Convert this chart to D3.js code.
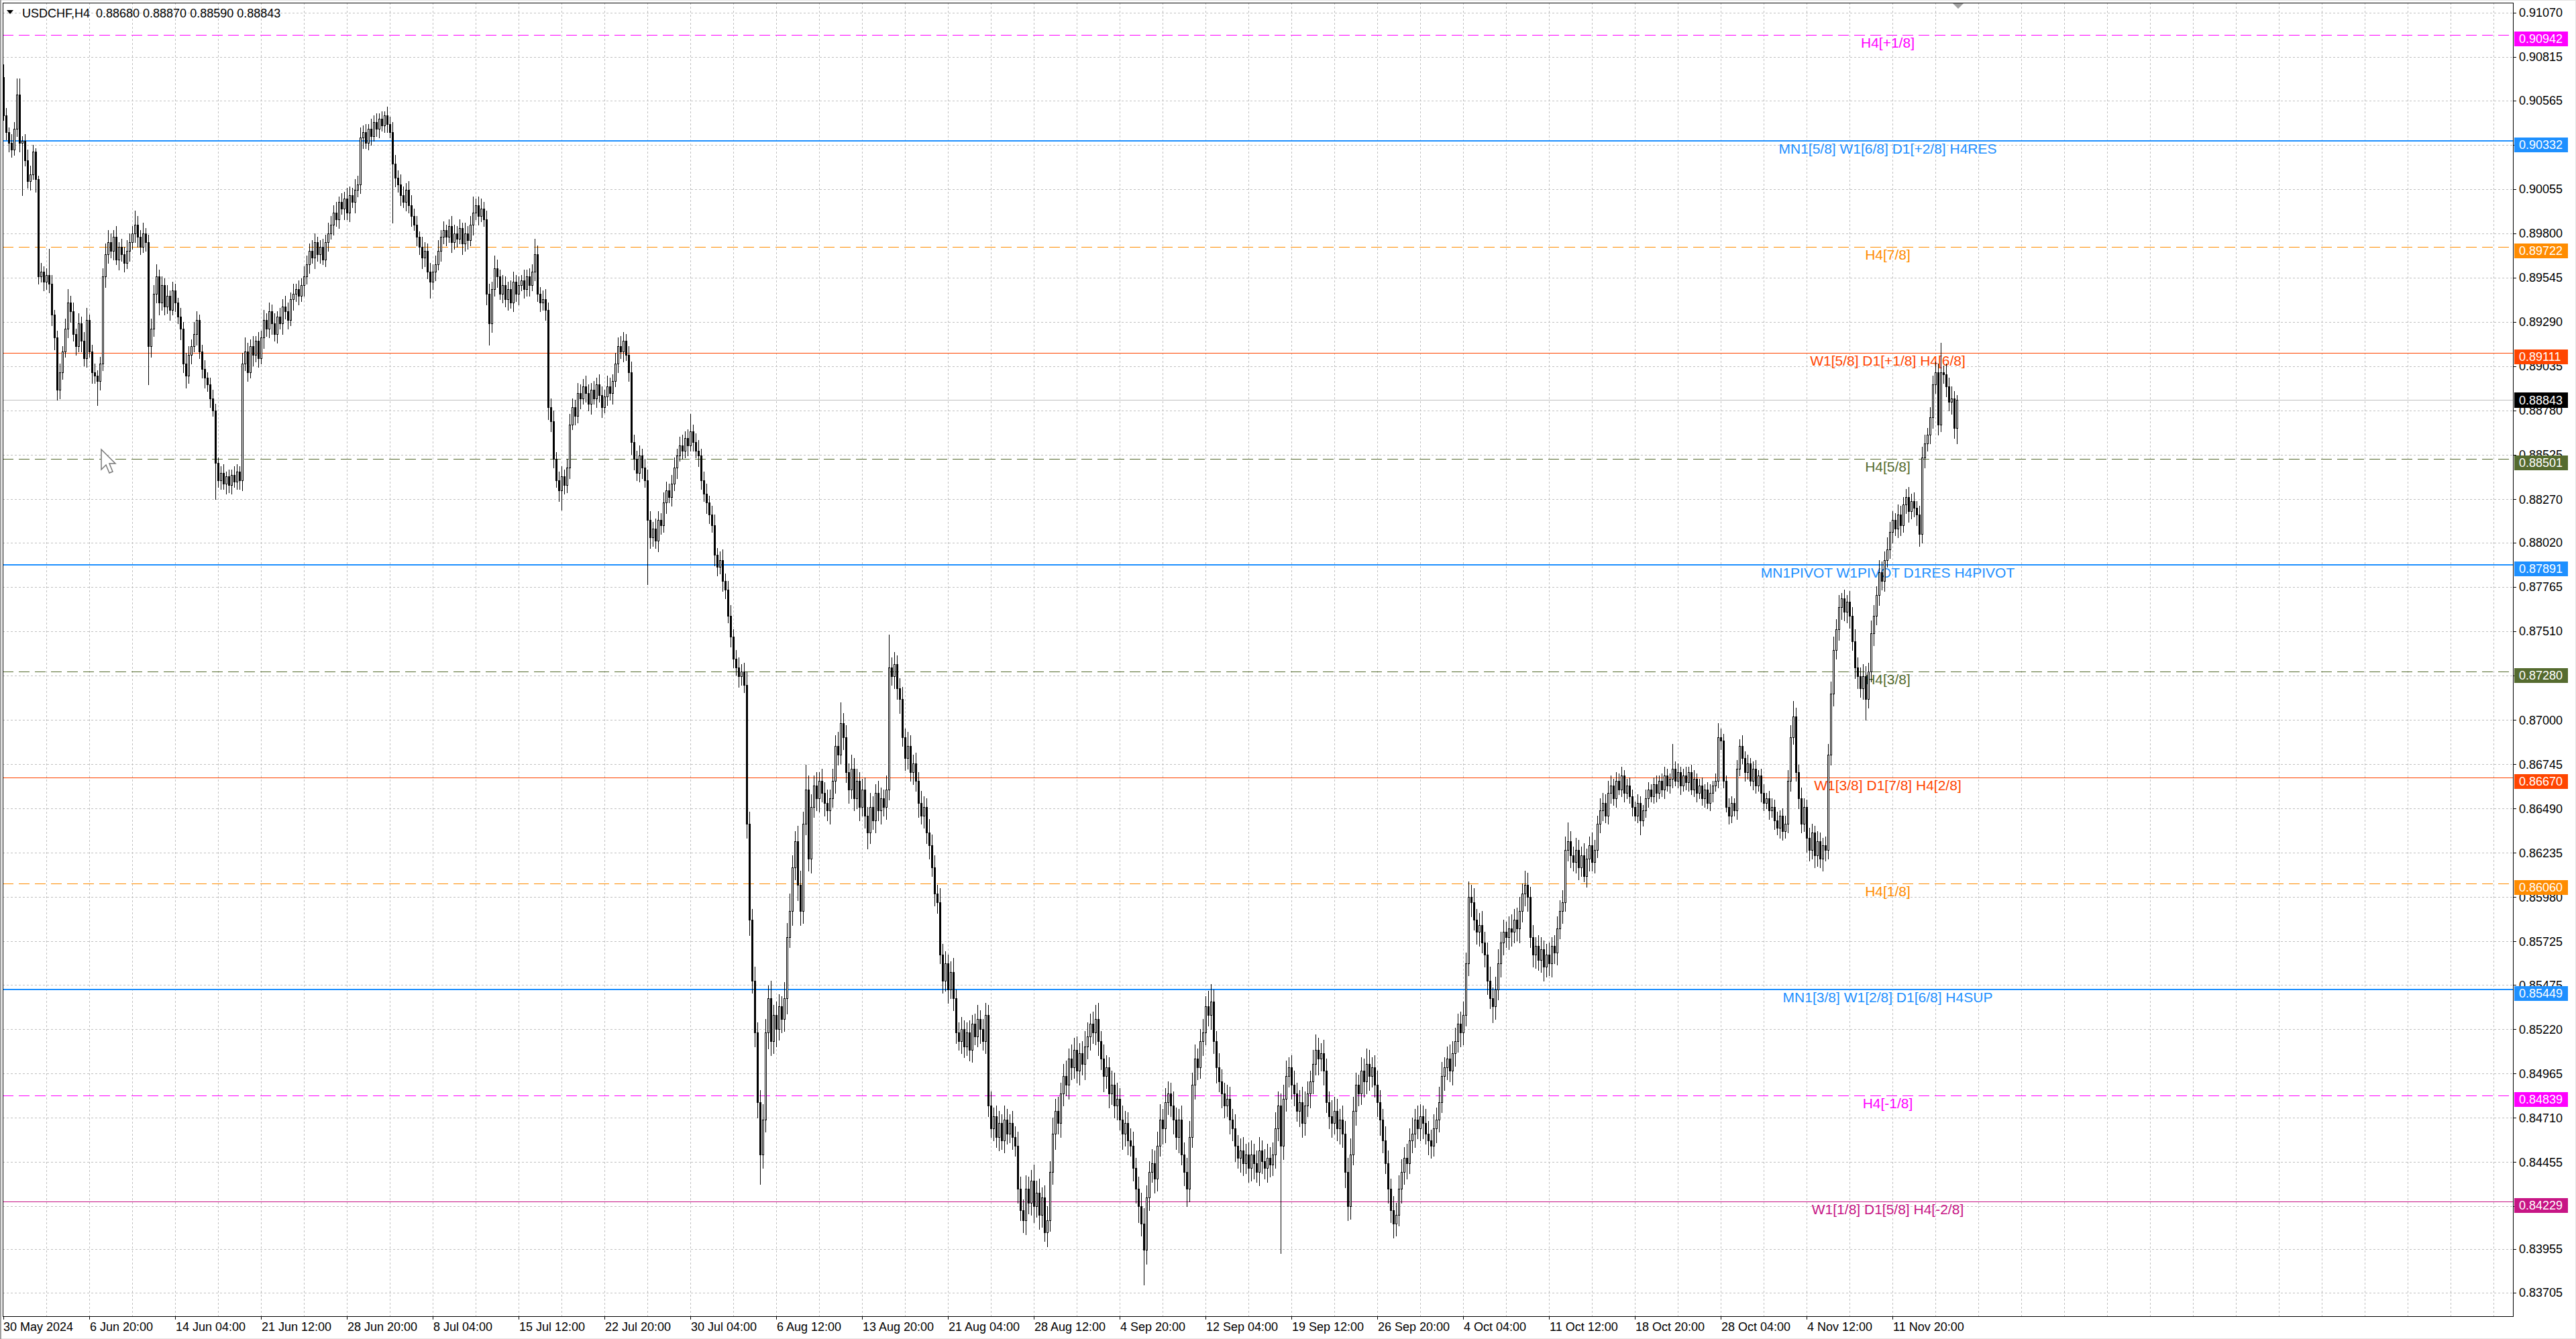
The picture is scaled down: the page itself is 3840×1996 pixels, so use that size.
<!DOCTYPE html>
<html><head><meta charset="utf-8">
<script src="https://cdn.jsdelivr.net/npm/d3@7"></script>
<style>html,body{margin:0;padding:0;background:#fff;overflow:hidden}svg{display:block}</style>
</head><body><svg id="c" width="3840" height="1996"></svg>
<script>
// ---------------- DATA ----------------
const symbolTitle = "USDCHF,H4";
const lastBarOHLC = ["0.88680", "0.88870", "0.88590", "0.88843"];
const currentPrice = 0.88843;
const firstOpen = 9070; // pips (x1e-4)
// H4 closes, in pips (x1e-4)
const closes = [
9048,9038,9032,9028,9040,9060,9032,9033,9022,9010,9014,9027,9011,8955,8958,8952,8956,8951,8933,8920,
8890,8900,8912,8925,8940,8935,8922,8915,8928,8918,8908,8930,8912,8900,8898,8895,8905,8955,8968,8975,
8970,8978,8965,8972,8968,8963,8970,8975,8980,8985,8978,8972,8980,8975,8915,8925,8945,8955,8940,8950,
8938,8944,8936,8947,8940,8932,8925,8905,8898,8910,8915,8922,8930,8912,8902,8897,8893,8885,8878,8848,
8838,8842,8836,8840,8835,8841,8837,8843,8838,8905,8912,8900,8915,8910,8918,8908,8920,8930,8925,8935,
8928,8922,8932,8928,8938,8935,8930,8942,8945,8948,8944,8950,8955,8962,8970,8966,8975,8968,8972,8965,
8975,8980,8985,8992,8988,8998,8994,9000,8992,9002,8998,9005,9008,9035,9038,9032,9040,9036,9044,9040,
9046,9042,9048,9043,9038,9020,9012,9008,9002,8998,9005,8996,8990,8985,8978,8972,8966,8970,8958,8952,
8958,8962,8970,8978,8982,8978,8984,8975,8980,8977,8983,8974,8980,8976,8985,8992,8996,8990,8994,8988,
8945,8928,8948,8960,8955,8945,8950,8942,8948,8940,8952,8945,8950,8953,8948,8955,8950,8958,8968,8945,
8940,8942,8936,8880,8872,8850,8838,8832,8840,8835,8845,8870,8880,8875,8888,8885,8892,8888,8882,8890,
8885,8893,8887,8880,8886,8892,8888,8895,8905,8915,8912,8918,8910,8900,8860,8850,8842,8852,8845,8838,
8815,8805,8810,8803,8815,8812,8825,8832,8828,8836,8845,8852,8858,8855,8862,8858,8866,8860,8855,8852,
8838,8830,8825,8818,8812,8795,8788,8792,8780,8775,8760,8748,8735,8730,8725,8728,8720,8640,8585,8550,
8520,8480,8450,8470,8520,8540,8515,8530,8522,8535,8528,8540,8575,8590,8615,8630,8605,8590,8640,8660,
8620,8650,8662,8655,8665,8658,8652,8648,8655,8665,8685,8680,8698,8690,8670,8660,8672,8655,8665,8650,
8660,8645,8635,8650,8642,8658,8648,8655,8650,8660,8730,8725,8732,8718,8712,8690,8678,8685,8670,8675,
8665,8652,8645,8650,8635,8628,8615,8600,8595,8565,8550,8560,8545,8555,8540,8520,8515,8522,8512,8520,
8510,8525,8518,8528,8522,8515,8530,8478,8465,8472,8460,8468,8458,8470,8462,8468,8460,8455,8430,8418,
8412,8430,8422,8435,8420,8428,8415,8425,8405,8412,8440,8462,8475,8468,8485,8495,8490,8505,8500,8510,
8498,8508,8502,8512,8518,8525,8520,8528,8515,8505,8495,8500,8485,8490,8478,8482,8470,8462,8468,8458,
8455,8442,8430,8420,8410,8395,8425,8440,8445,8436,8455,8470,8465,8480,8485,8478,8470,8460,8470,8450,
8440,8430,8460,8490,8505,8500,8515,8520,8535,8530,8538,8515,8500,8492,8485,8478,8482,8470,8465,8455,
8448,8452,8445,8450,8442,8450,8445,8440,8452,8446,8442,8448,8444,8450,8465,8478,8455,8482,8495,8500,
8490,8485,8475,8480,8468,8478,8485,8492,8502,8510,8505,8508,8498,8480,8472,8468,8475,8465,8470,8462,
8440,8420,8450,8475,8490,8485,8498,8492,8502,8495,8500,8490,8480,8470,8458,8445,8430,8418,8410,8415,
8430,8440,8448,8445,8458,8462,8470,8465,8472,8468,8462,8458,8455,8465,8470,8480,8495,8500,8505,8498,
8508,8515,8525,8520,8530,8560,8598,8595,8585,8578,8582,8572,8565,8550,8540,8535,8545,8560,8572,8578,
8575,8580,8578,8585,8580,8590,8600,8605,8598,8575,8565,8570,8562,8568,8558,8565,8560,8570,8566,8580,
8590,8595,8625,8630,8622,8618,8625,8615,8622,8610,8620,8628,8618,8625,8640,8648,8652,8645,8658,8662,
8655,8665,8660,8668,8658,8662,8656,8650,8645,8652,8642,8648,8655,8660,8656,8663,8658,8665,8660,8668,
8662,8666,8672,8665,8670,8662,8668,8664,8670,8660,8666,8658,8662,8655,8660,8652,8658,8662,8665,8690,
8688,8665,8650,8645,8652,8648,8672,8685,8678,8670,8675,8665,8672,8662,8668,8658,8652,8655,8648,8650,
8642,8638,8645,8636,8640,8665,8690,8702,8670,8655,8640,8650,8632,8625,8635,8622,8630,8620,8628,8625,
8680,8715,8740,8752,8765,8770,8762,8768,8760,8745,8730,8725,8718,8725,8712,8728,8750,8760,8772,8785,
8780,8792,8798,8808,8815,8810,8818,8812,8824,8828,8820,8826,8822,8818,8807,8851,8859,8864,8874,8893,
8900,8870,8900,8899,8892,8883,8885,8868,8884
];
// wick lengths above / below the body, in pips
const upperWicks = [
7,4,3,5,4,9,9,3,4,6,5,4,2,2,5,3,4,15,5,3,
4,5,3,6,8,4,5,3,6,4,5,7,3,4,5,3,4,5,6,7,
5,4,6,3,5,4,6,5,4,8,5,4,6,3,4,6,5,7,4,5,
4,6,3,5,4,3,5,4,6,5,4,7,5,3,4,5,3,4,5,4,
3,4,5,3,4,3,5,4,3,6,8,5,4,6,3,5,4,6,4,5,
4,6,3,5,4,6,5,4,6,3,5,4,6,5,4,6,5,3,4,5,
4,6,5,4,6,3,5,4,6,5,4,6,5,6,4,5,3,6,4,5,
3,4,2,5,4,6,5,4,6,5,4,5,6,4,5,3,6,5,4,5,
4,5,6,4,5,3,4,6,5,4,5,3,6,4,5,9,4,5,6,4,
5,6,4,7,5,4,6,5,4,5,6,4,5,3,6,4,5,4,9,5,
4,5,6,4,5,6,4,5,6,4,5,6,5,4,6,5,4,6,5,4,
5,4,6,5,4,6,5,4,6,5,6,5,4,5,6,4,5,6,4,5,
6,5,4,6,5,4,6,5,4,5,6,4,5,6,4,5,10,4,5,6,
4,5,6,4,5,6,4,5,6,4,5,6,4,5,6,4,5,8,7,6,
8,6,7,9,8,7,10,6,8,7,6,9,8,10,7,6,9,8,7,14,
8,7,6,8,5,7,6,8,5,7,6,8,12,6,7,5,8,6,7,5,
6,7,5,8,6,5,7,6,5,8,19,6,7,5,6,7,5,8,6,5,
6,5,7,6,5,8,6,7,5,8,6,7,5,6,8,5,6,7,5,6,
7,5,6,8,5,6,7,6,8,5,6,7,5,8,6,5,7,6,8,7,
6,8,7,6,9,7,8,6,7,8,6,9,7,8,6,7,9,6,8,7,
8,6,7,9,8,6,7,8,9,6,8,7,6,8,7,9,6,8,7,6,
7,8,6,7,8,9,7,6,8,7,8,9,6,8,7,6,8,7,6,8,
7,8,9,7,8,6,7,8,6,9,10,7,6,8,7,6,8,7,6,8,
6,7,8,6,7,8,6,7,8,6,7,8,6,7,9,8,7,8,9,6,
7,8,6,7,9,8,7,6,8,9,7,6,8,7,6,9,8,7,6,8,
7,8,9,8,7,6,8,7,9,8,6,7,8,7,6,8,7,6,8,7,
8,7,6,8,7,9,6,8,7,6,8,7,6,8,7,9,8,6,7,8,
7,8,6,7,8,6,9,7,8,6,7,8,6,7,8,6,7,8,6,7,
6,7,8,6,7,8,6,8,7,6,7,5,6,7,5,6,7,5,6,7,
6,7,8,11,6,5,7,6,5,7,6,5,7,6,5,7,6,5,7,6,
4,5,4,5,3,4,5,4,3,5,4,3,5,4,3,4,5,3,4,5,
4,3,14,4,5,3,4,5,3,4,5,3,4,5,3,4,5,3,4,8,
5,4,3,5,4,3,5,4,6,4,5,3,4,5,3,4,5,3,4,5,
4,5,3,4,5,6,7,9,5,4,6,5,4,6,5,4,6,5,4,5,
6,7,8,6,7,3,5,4,6,5,7,6,5,7,6,5,7,6,5,7,
6,5,7,6,5,4,6,5,4,5,6,4,5,4,5,6,5,4,6,5,
6,5,17,4,6,5,7,4,3
];
const lowerWicks = [
3,4,5,4,3,4,5,30,3,4,5,3,7,4,3,5,4,5,6,7,
6,5,4,3,5,6,4,5,3,6,4,5,3,6,4,14,5,4,6,5,
4,5,3,6,4,5,3,6,4,5,6,4,3,5,22,6,4,5,7,4,
5,4,6,3,5,4,6,5,7,4,5,3,6,4,5,6,4,5,3,21,
4,5,3,6,4,5,3,4,5,6,4,5,3,6,4,5,3,6,4,5,
6,4,5,3,6,4,5,3,6,4,5,3,6,4,5,3,6,4,5,3,
4,5,3,6,4,5,3,6,4,5,3,6,4,5,6,3,4,5,3,4,
5,3,4,5,3,34,5,4,6,3,5,4,6,3,5,4,6,5,4,9,
4,5,3,6,4,5,3,6,4,5,3,6,4,5,3,6,4,5,3,4,
6,12,5,4,6,3,5,4,6,3,5,4,6,3,5,4,6,3,5,4,
5,4,6,7,6,5,4,6,11,5,4,6,3,5,4,6,3,5,4,6,
3,5,4,6,3,5,4,6,3,5,4,6,3,5,7,6,4,5,6,4,
37,6,5,4,6,5,4,6,3,5,4,6,3,5,4,6,3,5,4,6,
5,4,6,5,4,6,5,4,6,5,4,6,5,4,6,5,4,8,9,7,
8,9,17,8,7,9,8,7,10,6,8,7,9,6,8,7,9,8,7,6,
7,8,6,7,8,5,7,6,8,5,7,6,5,7,6,8,5,7,6,8,
5,7,9,6,5,7,6,8,5,7,6,5,7,6,8,5,7,6,5,7,
6,8,5,7,6,8,5,7,6,5,7,6,8,5,7,6,5,7,6,5,
6,7,5,6,8,5,7,6,5,7,6,8,5,7,6,5,7,6,8,6,
7,8,6,7,9,6,8,7,5,8,6,7,9,6,8,7,6,8,7,6,
7,8,6,9,7,8,6,7,8,6,9,7,8,6,7,8,6,9,7,8,
6,7,8,9,7,20,8,7,6,8,7,6,9,8,7,6,8,7,9,6,
8,10,7,6,8,7,6,8,7,6,8,7,9,6,8,7,6,8,7,9,
6,8,7,6,8,7,9,6,8,7,6,8,7,6,8,7,62,8,7,6,
8,7,6,9,8,7,6,8,7,6,9,7,8,6,7,8,6,7,9,8,
9,8,7,6,8,7,6,9,7,8,6,7,8,9,7,6,8,7,8,7,
6,8,7,9,6,7,8,6,7,9,6,8,7,6,8,7,6,8,7,6,
8,7,6,8,7,6,7,8,6,7,8,6,7,8,6,9,7,6,8,7,
6,7,8,6,7,8,6,7,8,6,7,8,6,7,8,6,7,8,6,7,
6,7,5,6,7,5,6,7,5,3,6,7,5,6,4,5,6,4,5,6,
4,5,3,4,5,3,4,5,3,4,8,3,4,5,3,4,5,3,4,5,
3,4,5,3,4,5,3,4,5,3,4,5,3,4,5,3,4,5,3,4,
5,4,3,5,4,3,5,4,3,5,4,3,5,4,3,5,4,3,5,4,
5,4,6,5,4,5,6,4,5,6,5,4,8,6,5,7,6,5,7,6,
5,6,7,5,6,7,5,6,7,5,6,7,5,6,12,5,6,7,5,6,
5,6,4,5,6,4,5,6,4,5,6,4,5,6,7,5,6,4,5,6,
5,6,4,5,6,5,7,6,9
];
const timeLabels = ["30 May 2024","6 Jun 20:00","14 Jun 04:00","21 Jun 12:00","28 Jun 20:00","8 Jul 04:00",
  "15 Jul 12:00","22 Jul 20:00","30 Jul 04:00","6 Aug 12:00","13 Aug 20:00","21 Aug 04:00","28 Aug 12:00",
  "4 Sep 20:00","12 Sep 04:00","19 Sep 12:00","26 Sep 20:00","4 Oct 04:00","11 Oct 12:00","18 Oct 20:00",
  "28 Oct 04:00","4 Nov 12:00","11 Nov 20:00"];
const timeLabelBars = [0,32,64,96,128,160,192,224,256,288,320,352,384,416,448,480,512,544,576,608,640,672,704];
const priceTicks = [0.91070,0.90815,0.90565,0.90310,0.90055,0.89800,0.89545,0.89290,0.89035,0.88780,0.88525,
  0.88270,0.88020,0.87765,0.87510,0.87255,0.87000,0.86745,0.86490,0.86235,0.85980,0.85725,0.85475,0.85220,
  0.84965,0.84710,0.84455,0.84200,0.83955,0.83705];
const levelPrices = [0.90942,0.90332,0.89722,0.89111,0.88501,0.87891,0.87280,0.86670,0.86060,0.85449,0.84839,0.84229];
const levelNames = ["H4[+1/8]","MN1[5/8] W1[6/8] D1[+2/8] H4RES","H4[7/8]","W1[5/8] D1[+1/8] H4[6/8]","H4[5/8]",
  "MN1PIVOT W1PIVOT D1RES H4PIVOT","H4[3/8]","W1[3/8] D1[7/8] H4[2/8]","H4[1/8]","MN1[3/8] W1[2/8] D1[6/8] H4SUP",
  "H4[-1/8]","W1[1/8] D1[5/8] H4[-2/8]"];

// ---------------- STYLE ----------------
const levelColors = ["#FF00FF","#1E90FF","#FF8C00","#FF4500","#556B2F","#1E90FF","#556B2F","#FF4500","#FF8C00","#1E90FF","#FF00FF","#C71585"];
const levelDashed = [true,false,true,false,true,false,true,false,true,false,true,false];
const levelWidths = [1,2,1,1,1,2,1,1,1,2,1,1];
const FONT = "'Liberation Sans', Arial, sans-serif";

// ---------------- LAYOUT ----------------
const W = 3840, H = 1996;
const P = {left: 4, top: 4, right: 3746, bottom: 1962};
const barSlots = 935;
const x = d3.scaleLinear().domain([0, barSlots]).range([5, 5 + 4 * barSlots]);
const y = d3.scaleLinear().domain([0.83705, 0.91070]).range([1926.6, 18.75]);
const ry = v => Math.round(y(v));
const labelX = x(702.25);

const svg = d3.select("#c");
svg.append("rect").attr("width", W).attr("height", H).attr("fill", "#fff");
svg.append("rect").attr("x", 0.5).attr("y", 0.5).attr("width", W - 1).attr("height", H - 1)
  .attr("fill", "none").attr("stroke", "#e3e3e3");

const clip = svg.append("defs").append("clipPath").attr("id", "pc");
clip.append("rect").attr("x", P.left).attr("y", P.top).attr("width", P.right - P.left).attr("height", P.bottom - P.top);
const plot = svg.append("g").attr("clip-path", "url(#pc)");

// grid
const gGrid = plot.append("g").attr("stroke", "#c0c0c0").attr("stroke-width", 1).attr("stroke-dasharray", "3,3").attr("shape-rendering", "crispEdges");
gGrid.selectAll("line.h").data(priceTicks).join("line").attr("class", "h")
  .attr("x1", P.left).attr("x2", P.right).attr("y1", d => ry(d) + 0.5).attr("y2", d => ry(d) + 0.5);
const vGrid = d3.range(16, barSlots, 16).filter(i => x(i) < P.right);
gGrid.selectAll("line.v").data(vGrid).join("line").attr("class", "v")
  .attr("y1", P.top).attr("y2", P.bottom).attr("x1", d => x(d) + 0.5).attr("x2", d => x(d) + 0.5);

// level lines
const levels = levelPrices.map((p, k) => ({p, name: levelNames[k], color: levelColors[k], dash: levelDashed[k], w: levelWidths[k]}));
plot.append("g").selectAll("line").data(levels).join("line")
  .attr("x1", P.left).attr("x2", P.right)
  .attr("y1", d => ry(d.p) + (d.w === 1 ? 0.5 : 0)).attr("y2", d => ry(d.p) + (d.w === 1 ? 0.5 : 0))
  .attr("stroke", d => d.color).attr("stroke-width", d => d.w)
  .attr("stroke-dasharray", d => d.dash ? "16,8" : null).attr("shape-rendering", "crispEdges");
plot.append("g").selectAll("text").data(levels).join("text")
  .attr("x", labelX).attr("y", d => ry(d.p) + 19).attr("text-anchor", "middle")
  .attr("font-family", FONT).attr("font-size", 21).attr("fill", d => d.color).text(d => d.name);

// current price line
plot.append("line").attr("x1", P.left).attr("x2", P.right).attr("y1", ry(currentPrice) + 0.5).attr("y2", ry(currentPrice) + 0.5)
  .attr("stroke", "#c0c0c0").attr("stroke-width", 1).attr("shape-rendering", "crispEdges");

// candles
const bars = closes.map((c, i) => {
  const o = i === 0 ? firstOpen : closes[i - 1];
  const uw = upperWicks[i] || 0, lw = lowerWicks[i] || 0;
  return {i, o: o / 1e4, c: c / 1e4, h: (Math.max(o, c) + uw) / 1e4, l: (Math.min(o, c) - lw) / 1e4};
});
const gC = plot.append("g").attr("shape-rendering", "crispEdges");
gC.selectAll("line.w").data(bars).join("line").attr("class", "w")
  .attr("x1", d => x(d.i) + 0.5).attr("x2", d => x(d.i) + 0.5)
  .attr("y1", d => ry(d.h)).attr("y2", d => ry(d.l) + 1)
  .attr("stroke", "#000").attr("stroke-width", 1);
gC.selectAll("rect.b").data(bars.filter(d => d.c > d.o)).join("rect").attr("class", "b")
  .attr("x", d => x(d.i) - 0.5).attr("width", 2)
  .attr("y", d => ry(d.c) + 0.5).attr("height", d => Math.max(1, ry(d.o) - ry(d.c)))
  .attr("fill", "#fff").attr("stroke", "#000").attr("stroke-width", 1);
gC.selectAll("rect.s").data(bars.filter(d => d.c < d.o)).join("rect").attr("class", "s")
  .attr("x", d => x(d.i) - 1).attr("width", 3)
  .attr("y", d => ry(d.o)).attr("height", d => Math.max(1, ry(d.c) - ry(d.o) + 1))
  .attr("fill", "#000");
gC.selectAll("rect.d").data(bars.filter(d => d.c === d.o)).join("rect").attr("class", "d")
  .attr("x", d => x(d.i) - 1).attr("width", 3).attr("y", d => ry(d.c)).attr("height", 1).attr("fill", "#000");

// mouse cursor (screenshot artefact)
const cur = [[0,0],[0,30],[7,23],[12,35],[17,33],[12,21],[21,21]];
const curX = 151, curY = 670;
svg.append("polygon").attr("points", cur.map(p => [curX + p[0], curY + p[1]].join(",")).join(" "))
  .attr("fill", "#fff").attr("stroke", "#777").attr("stroke-width", 1.5);

// frame
svg.append("rect").attr("x", P.left + 0.5).attr("y", P.top + 0.5).attr("width", P.right - P.left).attr("height", P.bottom - P.top)
  .attr("fill", "none").attr("stroke", "#000").attr("stroke-width", 1).attr("shape-rendering", "crispEdges");
svg.append("line").attr("x1", 1).attr("x2", 1).attr("y1", 0).attr("y2", H).attr("stroke", "#a0a0a0").attr("stroke-width", 2);

// chart shift marker
const sx = x(closes.length - 1) + 2;
svg.append("polygon").attr("points", `${sx-8},${P.top+1} ${sx+8},${P.top+1} ${sx},${P.top+9}`).attr("fill", "#a0a0a0");

// price axis
const gY = svg.append("g").attr("font-family", FONT).attr("font-size", 18);
gY.selectAll("line").data(priceTicks).join("line")
  .attr("x1", P.right).attr("x2", P.right + 5).attr("y1", d => ry(d) + 0.5).attr("y2", d => ry(d) + 0.5)
  .attr("stroke", "#000").attr("shape-rendering", "crispEdges");
gY.selectAll("text").data(priceTicks).join("text")
  .attr("x", P.right + 9).attr("y", d => y(d)).attr("dy", "0.36em").attr("fill", "#000").text(d => d.toFixed(5));

// level price boxes
const gB = svg.append("g").attr("font-family", FONT).attr("font-size", 18);
gB.selectAll("rect").data(levels).join("rect")
  .attr("x", P.right + 2).attr("width", 80).attr("y", d => ry(d.p) - 5).attr("height", 22).attr("fill", d => d.color);
gB.selectAll("text").data(levels).join("text")
  .attr("x", P.right + 9).attr("y", d => ry(d.p) + 6).attr("dy", "0.36em").attr("fill", "#fff").text(d => d.p.toFixed(5));
gB.append("rect").attr("x", P.right + 2).attr("width", 80).attr("y", ry(currentPrice) - 11).attr("height", 23).attr("fill", "#000");
gB.append("text").attr("x", P.right + 9).attr("y", ry(currentPrice) + 0.5).attr("dy", "0.36em").attr("fill", "#fff").text(currentPrice.toFixed(5));

// time axis
const gX = svg.append("g").attr("font-family", FONT).attr("font-size", 18);
gX.selectAll("line").data(timeLabelBars).join("line")
  .attr("x1", d => x(d) + 0.5).attr("x2", d => x(d) + 0.5).attr("y1", P.bottom).attr("y2", P.bottom + 5)
  .attr("stroke", "#000").attr("shape-rendering", "crispEdges");
gX.selectAll("text").data(timeLabels).join("text")
  .attr("x", (d, k) => x(timeLabelBars[k]) + (k === 0 ? 0 : 1)).attr("y", P.bottom + 22).attr("fill", "#000").text(d => d);

// header
svg.append("polygon").attr("points", "10,15 20,15 15,21").attr("fill", "#000");
svg.append("text").attr("x", 33).attr("y", 26).attr("font-family", FONT).attr("font-size", 18).attr("fill", "#000").text(symbolTitle);
svg.append("text").attr("x", 143).attr("y", 26).attr("font-family", FONT).attr("font-size", 18).attr("fill", "#000").text(lastBarOHLC.join(" "));
</script>
</body></html>
